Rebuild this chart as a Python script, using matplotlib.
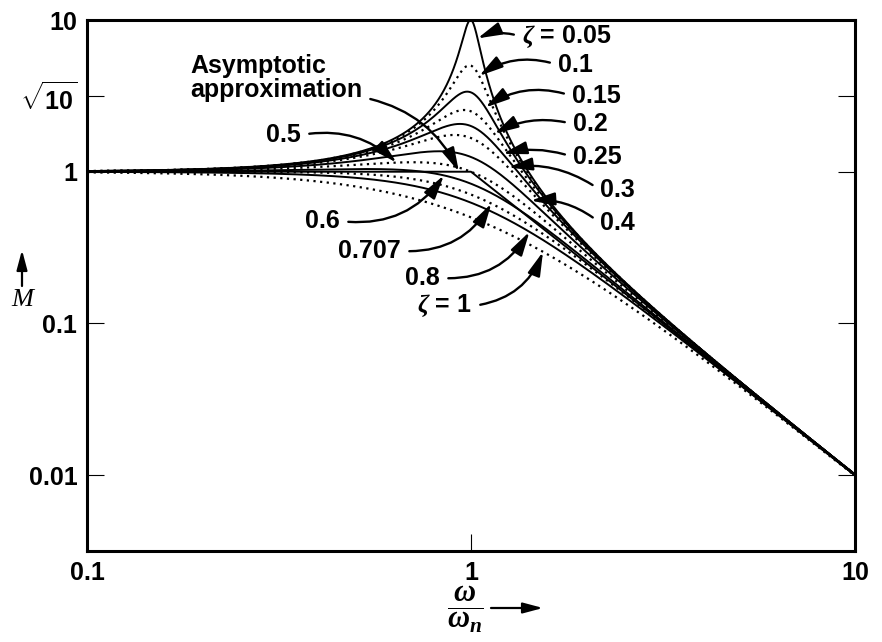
"""
Second-order system magnitude response M(w/wn) for several damping ratios.
"""

import numpy as np
import matplotlib
matplotlib.use('Agg')
import matplotlib.pyplot as plt

plt.rcParams['font.family'] = ['Liberation Sans', 'DejaVu Sans']
plt.rcParams['font.weight'] = 'bold'
plt.rcParams['mathtext.fontset'] = 'custom'
plt.rcParams['mathtext.rm'] = 'Liberation Sans:bold'
plt.rcParams['mathtext.bf'] = 'Liberation Sans:bold'
plt.rcParams['mathtext.it'] = 'Liberation Serif:italic'

# damping ratios and how each curve is drawn
zetas = [0.05, 0.1, 0.15, 0.2, 0.25, 0.3, 0.4, 0.5, 0.6, 0.707, 0.8, 1.0]
line_kinds = ['solid', 'dotted', 'solid', 'dotted', 'solid', 'dotted',
              'solid', 'dotted', 'solid', 'dotted', 'solid', 'dotted']

# labels and the frequency where each arrow touches its curve
label_texts = [r'$\zeta$ = 0.05', '0.1', '0.15', '0.2', '0.25', '0.3', '0.4',
               '0.5', '0.6', '0.707', '0.8', r'$\zeta$ = 1']
label_omega = [1.04, 1.05, 1.09, 1.15, 1.21, 1.25, 1.43,
               0.64, 0.85, 1.13, 1.42, 1.54]

x_ticks = [0.1, 1, 10]
x_tick_labels = ['0.1', '1', '10']
y_ticks = [0.01, 0.1, 1, np.sqrt(10), 10]
y_tick_labels = ['0.01', '0.1', '1', r'$\sqrt{10}$', '10']

# label placement in image pixels (x, y from top), side of text, arc
label_place = [
    (522, 37, 'left', 0.2),
    (558, 65, 'left', 0.25),
    (572, 96, 'left', 0.25),
    (573, 124, 'left', 0.2),
    (573, 157, 'left', 0.15),
    (600, 190, 'left', 0.2),
    (600, 223, 'left', 0.2),
    (301, 135, 'right', -0.25),
    (340, 221, 'right', 0.3),
    (401, 251, 'right', 0.3),
    (440, 278, 'right', 0.3),
    (472, 306, 'right', 0.3),
]

W, H = 882, 642
FS = 18


def magnitude(r, zeta):
    return 1.0 / np.sqrt((1 - r ** 2) ** 2 + (2 * zeta * r) ** 2)


def fpx(x, y):
    return (x, H - y)


fig = plt.figure(figsize=(W / 100, H / 100), dpi=100)
ax = fig.add_axes([87 / W, (H - 551) / H, (855 - 87) / W, (551 - 20) / H])

w = np.logspace(-1, 1, 2000)
for zeta, kind in zip(zetas, line_kinds):
    if kind == 'solid':
        ax.plot(w, magnitude(w, zeta), color='k', lw=1.4)
    else:
        ax.plot(w, magnitude(w, zeta), color='k', lw=1.6,
                linestyle=(0, (1, 2)))

# asymptotic approximation
asym = np.where(w < 1, 1.0, 1.0 / w ** 2)
ax.plot(w, asym, color='k', lw=1.4)

ax.set_xscale('log')
ax.set_yscale('log')
ax.set_xlim(0.1, 10)
ax.set_ylim(10 ** -2.5, 10)
ax.minorticks_off()
ax.set_xticks(x_ticks)
ax.set_xticklabels(x_tick_labels)
ax.set_yticks(y_ticks)
ax.set_yticklabels(y_tick_labels)
ax.tick_params(axis='both', direction='in', length=12, width=0.8,
               labelsize=FS, pad=7)
ax.tick_params(axis='y', right=True)
for spine in ax.spines.values():
    spine.set_linewidth(2.2)

arrow_style = '-|>,head_length=1.2,head_width=0.32'

for text, om, zeta, (px, py, side, rad) in zip(
        label_texts, label_omega, zetas, label_place):
    rel = (0.0, 0.5) if side == 'left' else (1.0, 0.5)
    ax.annotate(text, xy=(om, magnitude(om, zeta)), xycoords='data',
                xytext=fpx(px, py), textcoords='figure pixels',
                ha=side, va='center', fontsize=FS, fontweight='bold',
                arrowprops=dict(arrowstyle=arrow_style,
                                connectionstyle=f'arc3,rad={rad}',
                                color='k', lw=1.7, mutation_scale=12,
                                shrinkA=4, shrinkB=0, relpos=rel))

ax.annotate('Asymptotic\napproximation', xy=(0.93, 1.0), xycoords='data',
            xytext=fpx(190, 78), textcoords='figure pixels',
            ha='left', va='center', fontsize=FS, fontweight='bold',
            multialignment='left', linespacing=1.0,
            arrowprops=dict(arrowstyle=arrow_style,
                            connectionstyle='arc3,rad=-0.25',
                            color='k', lw=1.7, mutation_scale=12,
                            shrinkA=4, shrinkB=0, relpos=(1.0, 0.1)))

# axis names with their arrows
fig.text(22 / W, (H - 300) / H, 'M', fontsize=19, family='Liberation Serif',
         style='italic', fontweight='normal', ha='center', va='center')
ax.annotate('', xy=fpx(22, 250), xycoords='figure pixels',
            xytext=fpx(22, 286), textcoords='figure pixels',
            arrowprops=dict(arrowstyle=arrow_style, color='k', lw=1.6,
                            mutation_scale=10, shrinkA=0, shrinkB=0))

fig.text(465 / W, (H - 610) / H, r'$\dfrac{\omega}{\omega_n}$', fontsize=22,
         ha='center', va='center')
ax.annotate('', xy=fpx(543, 608), xycoords='figure pixels',
            xytext=fpx(491, 608), textcoords='figure pixels',
            arrowprops=dict(arrowstyle=arrow_style, color='k', lw=1.6,
                            mutation_scale=10, shrinkA=0, shrinkB=0))

fig.savefig('out.png', dpi=100)
